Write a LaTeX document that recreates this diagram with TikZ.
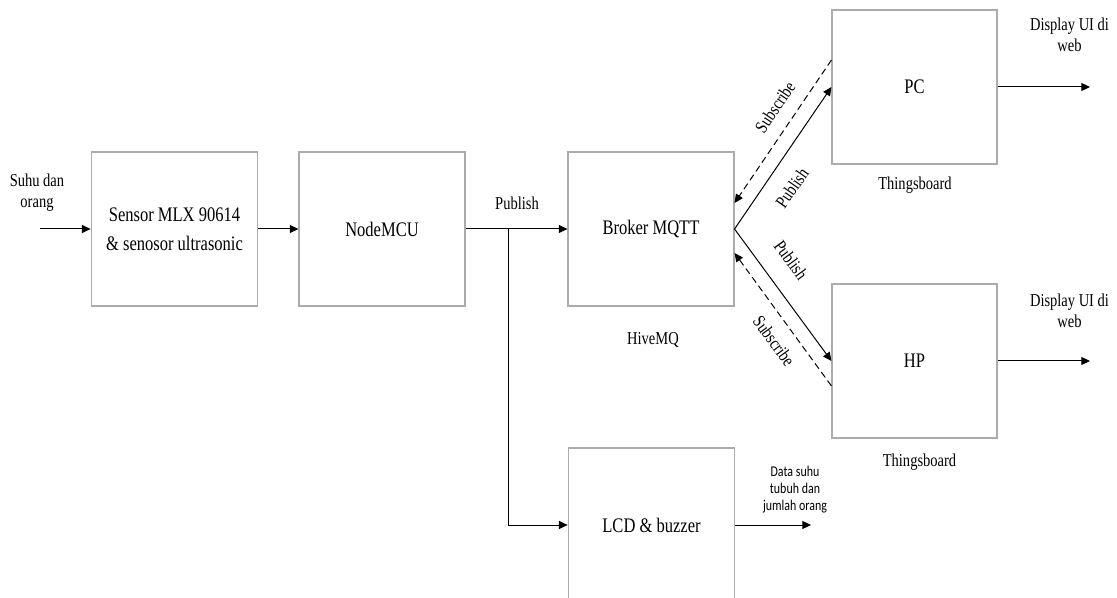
\documentclass[tikz,border=0pt]{standalone}
\usepackage{fontspec}
\setmainfont{Liberation Serif}[FakeStretch=0.8]
\newfontfamily\datafont{Carlito}[FakeStretch=0.8]
\usetikzlibrary{arrows.meta,calc}
\definecolor{boxgray}{HTML}{ABABAB}
\tikzset{
  blockbox/.style={draw=boxgray, line width=0.8pt, minimum width=124.5pt, minimum height=115.5pt, inner sep=0pt, align=center, font=\fontsize{15.5}{21.75}\selectfont},
  smalltext/.style={inner sep=0pt, align=center, font=\fontsize{13.6}{15.75}\selectfont},
  datatext/.style={inner sep=0pt, align=center, font=\datafont\fontsize{11.2}{12.75}\selectfont},
  arr/.style={draw=black, line width=0.75pt, -{Triangle[length=6.5pt,width=6pt]}},
  subarr/.style={arr, dash pattern=on 5pt off 3pt},
}
\begin{document}
\begin{tikzpicture}[x=0.75pt,y=-0.75pt]
\useasboundingbox (0,0) rectangle (1117,598);
\clip (0,0) rectangle (1117,598);
% blocks
\node[blockbox, minimum width=125pt] (sensor) at (174.5,229) {Sensor MLX 90614\\\& senosor ultrasonic};
\node[blockbox] (mcu) at (382,229) {NodeMCU};
\node[blockbox] (broker) at (651,229) {Broker MQTT};
\node[blockbox, minimum width=123.75pt] (pc) at (914.5,87) {PC};
\node[blockbox, minimum width=123.75pt] (hp) at (914.5,361) {HP};
\node[blockbox, minimum width=125pt] (lcd) at (651.5,525) {LCD \& buzzer};
% labels
\node[smalltext] (lin) at (37,193) {Suhu dan\\orang};
\node[smalltext] (lpub) at (517,203) {Publish};
\node[smalltext] (lhive) at (653,340) {HiveMQ};
\node[smalltext] (ltb1) at (915,185) {Thingsboard};
\node[smalltext] (ltb2) at (919.5,462) {Thingsboard};
\node[smalltext] (ldisp1) at (1069.5,35) {Display UI di\\web};
\node[smalltext] (ldisp2) at (1069.5,311) {Display UI di\\web};
\node[datatext] (ldata) at (795,490) {Data suhu\\tubuh dan\\jumlah orang};
\node[smalltext, rotate=56] (lsub1) at (775,107) {Subscribe};
\node[smalltext, rotate=55] (lpub1) at (792,188) {Publish};
\node[smalltext, rotate=-54] (lpub2) at (791,260) {Publish};
\node[smalltext, rotate=-54] (lsub2) at (774,341) {Subscribe};
% coordinates
\coordinate (in) at (40,229);
\coordinate (br) at (508,229);
\coordinate (pcout) at (1090,87);
\coordinate (hpout) at (1090,361);
\coordinate (lcdout) at (811,525);
% connectors
\draw[arr] (in) -- (sensor.west);
\draw[arr] (sensor.east) -- (mcu.west);
\draw[arr] (mcu.east) -- (broker.west);
\draw[arr] (br) |- (lcd.west);
\draw[arr] (broker.east) -- (pc.west);
\draw[arr] (broker.east) -- (hp.west);
\draw[subarr] ($(pc.west)+(0,-27)$) -- ($(broker.east)+(0,-26)$);
\draw[subarr] ($(hp.west)+(0,25)$) -- ($(broker.east)+(0,24)$);
\draw[arr] (pc.east) -- (pcout);
\draw[arr] (hp.east) -- (hpout);
\draw[arr] (lcd.east) -- (lcdout);
\end{tikzpicture}
\end{document}
